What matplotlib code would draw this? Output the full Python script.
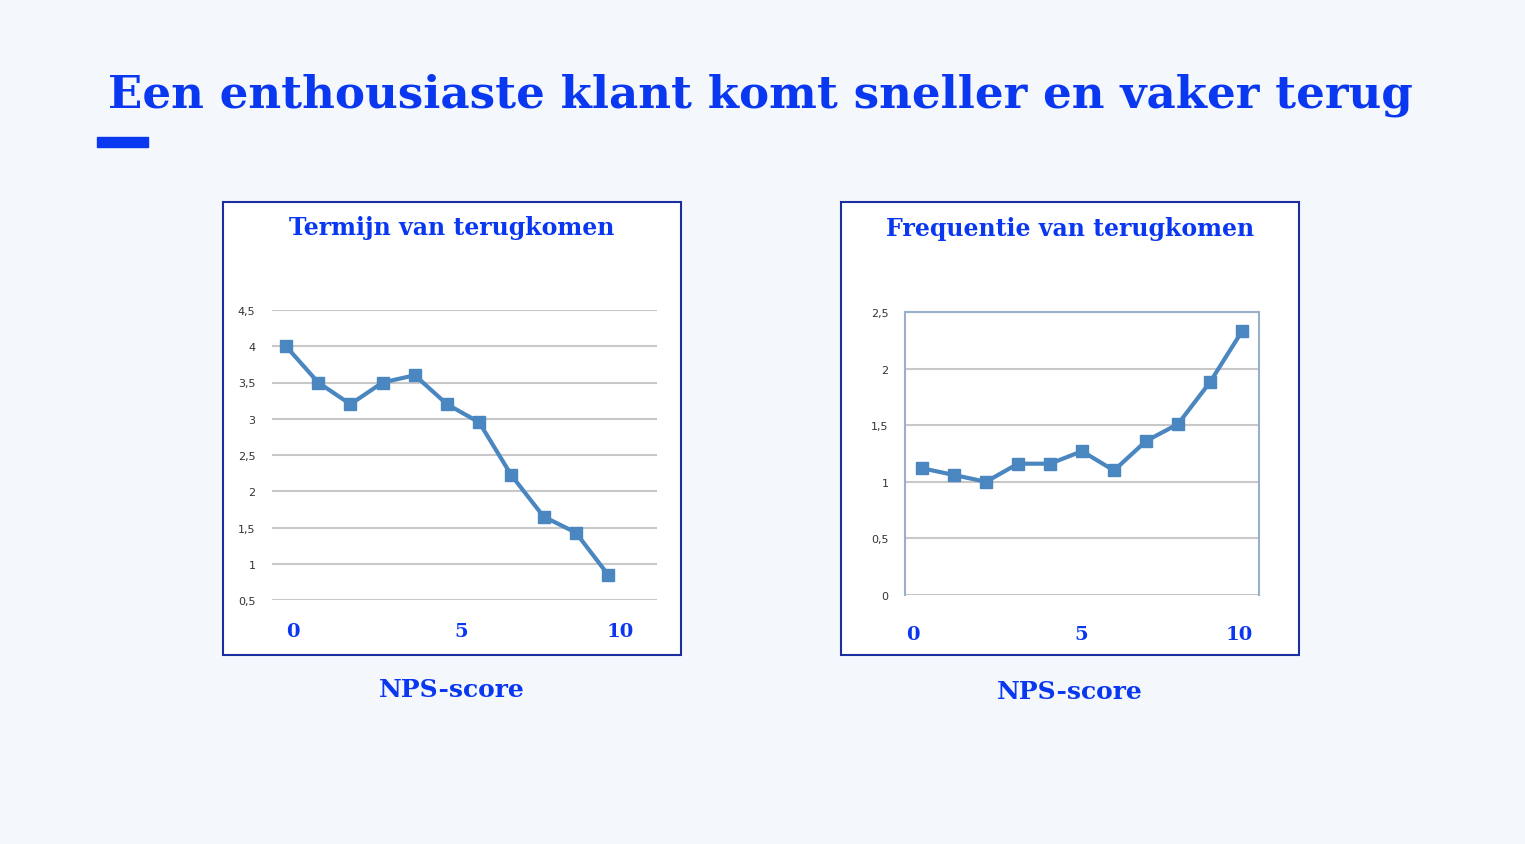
import matplotlib
matplotlib.use("Agg")
import matplotlib.pyplot as plt
from matplotlib.patches import Rectangle

W, H = 1525, 845
nps = list(range(11))
termijn = [4.0, 3.5, 3.2, 3.5, 3.6, 3.2, 2.95, 2.22, 1.65, 1.43, 0.85]
frequentie = [1.12, 1.06, 1.0, 1.16, 1.16, 1.27, 1.10, 1.36, 1.51, 1.88, 2.33]
left_yticks = [0.5, 1, 1.5, 2, 2.5, 3, 3.5, 4, 4.5]
right_yticks = [0, 0.5, 1, 1.5, 2, 2.5]
xlabels = ["0", "5", "10"]

BLUE = "#0a37f0"
LINE = "#4a86c0"
BG = "#f4f7fb"

fig = plt.figure(figsize=(W/100, H/100), dpi=100, facecolor=BG)

def ax_px(x0, y0, x1, y1, **kw):
    return fig.add_axes([x0/W, 1-y1/H, (x1-x0)/W, (y1-y0)/H], **kw)

def fx(x): return x/W
def fy(y): return 1-y/H

fig.text(fx(108), fy(95), "Een enthousiaste klant komt sneller en vaker terug",
         fontsize=32.5, fontweight="bold", family="DejaVu Serif", color=BLUE, va="center", ha="left")
fig.patches.append(Rectangle((fx(97), fy(148)), fx(51), 10/H, transform=fig.transFigure,
                             color=BLUE, zorder=-5))

def panel(bx0, title, titley, ax_box, xlim, ylim, yticks, data, labx, framed, xt_y, xl_y):
    fig.patches.append(Rectangle((fx(bx0), fy(656)), fx(458), 453/H, transform=fig.transFigure,
                                 facecolor="white", edgecolor="#1b2fa0", lw=1.5, zorder=-5))
    fig.text(fx(bx0+229), fy(titley), title, fontsize=17, fontweight="bold",
             family="DejaVu Serif", color=BLUE, ha="center", va="center")
    ax = ax_px(*ax_box)
    ax.set_zorder(5)
    ax.set_facecolor("white")
    ax.set_xlim(*xlim); ax.set_ylim(*ylim)
    ax.set_yticks(yticks)
    ax.set_yticklabels([str(t).replace(".", ",") if t != int(t) else str(int(t)) for t in yticks],
                       fontsize=8, color="#333333")
    ax.set_xticks([])
    ax.grid(axis="y", color="#c8c8c8", lw=1.5)
    ax.set_axisbelow(True)
    ax.tick_params(axis="y", length=0, pad=12)
    for s in ax.spines.values():
        s.set_visible(False)
    if framed:
        for k in ("left", "right", "top"):
            ax.spines[k].set_visible(True); ax.spines[k].set_color("#9ab0c8"); ax.spines[k].set_linewidth(1.5)
    ax.plot(nps, data, color=LINE, lw=3, marker="s", ms=9, mfc=LINE, mec=LINE, clip_on=False)
    for lbl, x in zip(xlabels, labx):
        fig.text(fx(x), fy(xt_y), lbl, fontsize=14, fontweight="bold", family="DejaVu Serif",
                 color=BLUE, ha="center", va="center")
    fig.text(fx(bx0+229), fy(xl_y), "NPS-score", fontsize=18, fontweight="bold",
             family="DejaVu Serif", color=BLUE, ha="center", va="center")

panel(223, "Termijn van terugkomen", 228, (272, 311, 657, 601),
      ((272-286)/32.2, (657-286)/32.2), (0.5, 4.5), left_yticks, termijn,
      [293, 461, 620], False, 632, 690)
panel(841, "Frequentie van terugkomen", 229, (905, 313, 1259, 596),
      ((905-922)/32.0, (1259-922)/32.0), (0, 2.5), right_yticks, frequentie,
      [913, 1081, 1239], True, 635, 692)

fig.savefig("out.png", dpi=100, facecolor=BG)
